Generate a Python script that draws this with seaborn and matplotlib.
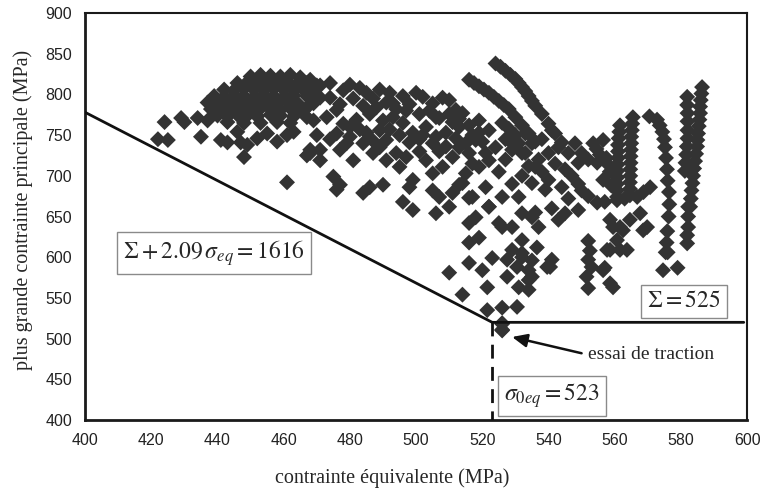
import matplotlib
matplotlib.use("Agg")
import matplotlib.pyplot as plt
import seaborn as sns
import pandas as pd

# ---------------- data ----------------
left_x = [422, 424, 425, 429, 430, 435, 434, 437, 441, 443, 446, 447, 448, 449, 452, 455,
          458, 461, 461, 463, 467, 468, 470, 471, 475, 476, 477, 484, 486, 490]
left_y = [745, 766, 744, 771, 766, 748, 771, 768, 744, 741, 754, 741, 723, 738, 746, 752,
          742, 692, 750, 754, 725, 732, 750, 732, 699, 683, 689, 679, 686, 689]

band_x = [450, 453, 456, 459, 462, 465,
          446, 449, 452, 455, 458, 461, 464, 467, 470,
          442, 445, 448, 451, 454, 457, 460, 463, 466, 469,
          439, 442, 445, 448, 451, 454, 457, 460, 463, 467, 471,
          437, 440, 443, 446, 449, 452, 455, 458, 461, 464, 468,
          438, 441, 444, 447, 450, 453, 456, 459, 462, 466,
          440, 443, 446, 449, 452, 456, 459, 463, 467,
          443, 448, 453, 458, 462, 469]
band_y = [822, 824, 823, 822, 824, 821,
          814, 815, 813, 816, 814, 815, 813, 814, 811,
          806, 805, 807, 806, 805, 807, 806, 805, 806, 804,
          798, 797, 799, 798, 797, 799, 798, 797, 799, 798, 796,
          790, 789, 791, 790, 789, 791, 790, 789, 791, 790, 788,
          782, 781, 783, 782, 781, 783, 782, 781, 783, 780,
          774, 773, 775, 774, 773, 775, 774, 773, 772,
          766, 765, 765, 766, 765, 768]

mid_x = [468, 471, 474, 478, 480, 483, 485, 487, 489, 492, 493, 496, 500, 502, 505, 508, 510, 512, 514,
         465, 469, 473, 476, 478, 480, 482, 485, 486, 489, 490, 491, 493, 496, 497, 499, 501, 503, 505,
         506, 509, 511, 513, 515, 517, 519, 519, 521, 522, 518, 524,
         468, 471, 474, 477, 479, 481, 484, 487, 489, 491, 494, 495, 497, 499, 501, 503, 505, 507, 508,
         511, 513, 515, 517, 519, 522, 525, 527, 529, 532, 536,
         496, 498, 499, 505, 506, 507, 510, 511, 513, 514, 516, 517, 521, 522, 526, 531, 535, 539,
         474, 477, 481, 484, 488, 491, 494, 498, 501, 504, 507, 510, 513, 516,
         476, 480, 483, 487, 492, 495, 498, 502, 506, 509, 512, 516, 520]
mid_y = [818, 811, 814, 805, 812, 808, 802, 795, 806, 802, 789, 798, 802, 797, 789, 796, 793, 781, 777,
         781, 789, 772, 781, 764, 760, 769, 753, 776, 756, 768, 744, 772, 765, 780, 753, 745, 760, 740,
         772, 753, 766, 760, 740, 750, 753, 768, 728, 756, 744, 735,
         728, 719, 745, 732, 740, 719, 740, 728, 735, 719, 728, 711, 723, 695, 730, 719, 703, 730, 711,
         723, 735, 703, 715, 711, 719, 705, 720, 740, 728, 711,
         668, 686, 658, 682, 654, 674, 662, 679, 689, 691, 673, 674, 686, 662, 674, 674, 691, 683,
         796, 788, 795, 786, 784, 790, 782, 788, 776, 780, 771, 776, 770, 762,
         752, 748, 757, 743, 757, 750, 741, 750, 748, 736, 746, 728, 742]

streak_x = [524, 525.5, 527, 528.5, 530, 531, 532, 533, 534, 535, 536,
            538, 540, 542, 544, 546, 549,
            516, 517.5, 519, 520.5, 522, 523.5, 525, 526.5, 528,
            530, 532, 534, 536]
streak_y = [838, 834, 829, 824, 819, 814, 809, 804, 798, 792, 786,
            776, 764, 752, 741, 728, 716,
            818, 814, 810, 806, 802, 797, 792, 787, 782,
            772, 762, 752, 742]

blob_x = [526, 528, 530, 527, 531, 533, 529, 533, 535, 537, 534, 538, 540, 542, 540, 543, 545, 547,
          549, 544, 546, 541, 543, 545, 549, 550, 552, 548, 550, 552, 541, 538, 532, 529, 536, 532, 537]
blob_y = [765, 758, 750, 745, 740, 752, 732, 728, 740, 720, 712, 705, 695, 715, 728, 735, 708, 700,
          690, 686, 672, 660, 646, 654, 658, 682, 675, 740, 728, 720, 756, 745, 700, 690, 655, 654, 637]

low_x = [514, 510, 516, 520, 523, 516, 519, 516, 518, 526, 529, 534, 522, 527.5, 527.5, 531, 534,
         530.5, 526, 521.5, 526, 526, 521.5, 532, 536.5, 540.5, 532, 530.5, 525, 529, 535, 535, 535,
         534, 539.6, 532, 541, 552, 552.5, 552, 553, 551.5, 552]
low_y = [554, 581, 593, 584, 599, 618, 624, 642, 649, 637, 609, 584, 662, 597, 576, 563, 572,
         539, 538, 535, 519, 511, 563, 621, 612, 588, 600, 588, 642, 637, 649, 596, 576,
         560, 588, 605, 597, 620, 608, 597, 588, 576, 562]

right_x = [557, 559.5, 557.7, 561.6, 562.5, 559.5, 568.6, 558.6, 561.6, 564.6, 567.7, 569.8, 560.7,
           563.7, 558.6, 556.5, 558.6,
           565.5, 565.3, 565.2, 565, 565, 564.9, 564.8, 564.8, 564.7, 564.7, 564.6, 564.6, 564.6,
           561.6, 561.4, 561.2, 561, 561, 561, 560.9, 560.8, 560.8, 560.7, 560.7, 560.7,
           553.5, 554.5, 555.5, 556.5, 557.5, 558, 554.7, 556.5, 558.5, 559,
           554.7, 557, 560.7, 563, 566.8, 568.7, 570.7,
           570.5, 572.8, 573.6, 574.4, 574.9, 575.2, 575.5, 575.8, 576, 576.4, 576.5, 576.3, 575.9,
           575.7, 575.4, 574.6,
           586.4, 586.2, 586, 585.8, 585.8, 585.6, 585.4, 585.2, 585, 584.9, 584.6, 584.3, 584, 583.7,
           583.5, 583.2, 583, 582.8,
           581.9, 581.9, 582, 582, 582, 582, 581.8, 581.6, 581.4, 581.2, 582.2, 582.2, 582.2, 581.9,
           581.9, 579, 576]
right_y = [587, 563, 609, 609, 633, 637, 633, 646, 637, 646, 654, 637, 621,
           609, 609, 584, 568,
           772, 764, 756, 748, 740, 732, 724, 716, 708, 700, 692, 684, 676,
           762, 754, 746, 738, 730, 722, 714, 706, 698, 690, 682, 674,
           740, 733, 726, 744, 722, 714, 716, 695, 705, 688,
           667, 668, 670, 672, 674, 680, 686,
           773, 769, 762, 754, 745, 735, 722, 708, 694, 680, 665, 650, 632,
           618, 606, 584,
           809, 801, 793, 785, 777, 769, 761, 752, 744, 736, 727, 718, 709, 700,
           691, 682, 672, 662,
           797, 787, 777, 767, 756, 746, 736, 726, 716, 706, 662, 650, 637, 627,
           617, 587, 606]

tension_x = [526, 526]
tension_y = [518, 510]

limit_x = [400, 523, 599]          # Sigma + 2.09 sigma_eq = 1616, then Sigma = 525
limit_y = [778, 520, 520]
sigma0_x = [523, 523]              # sigma_0eq = 523
sigma0_y = [520, 400]

x_ticks = list(range(400, 601, 20))
y_ticks = list(range(400, 901, 50))

# ---------------- figure ----------------
sns.set_style("white")
plt.rcParams["font.family"] = ["Liberation Serif", "DejaVu Serif"]
plt.rcParams["mathtext.fontset"] = "stix"

df = pd.DataFrame({
    "x": left_x + band_x + mid_x + streak_x + blob_x + low_x + right_x + tension_x,
    "y": left_y + band_y + mid_y + streak_y + blob_y + low_y + right_y + tension_y,
})

fig = plt.figure(figsize=(7.6, 4.95), dpi=100)
ax = fig.add_axes([0.112, 0.1515, 0.871, 0.8222])

sns.scatterplot(data=df, x="x", y="y", marker="D", s=66, color="#333333",
                edgecolor="none", linewidth=0, ax=ax, zorder=3)

ax.plot(limit_x, limit_y, color="#111111", lw=2.0, zorder=4)
ax.plot(sigma0_x, sigma0_y, color="#111111", lw=2.0, ls=(0, (5, 3)), zorder=4)

ax.set_xlim(400, 600)
ax.set_ylim(400, 900)
ax.set_xticks(x_ticks)
ax.set_yticks(y_ticks)
ax.tick_params(direction="inout", length=7, width=1, colors="#222222", labelsize=11.5, pad=6)
for lab in ax.get_xticklabels() + ax.get_yticklabels():
    lab.set_fontfamily("Liberation Sans")

for side, lw in (("left", 2.0), ("bottom", 2.0), ("top", 1.5), ("right", 1.5)):
    ax.spines[side].set_visible(True)
    ax.spines[side].set_color("#1a1a1a")
    ax.spines[side].set_linewidth(lw)

ax.set_xlabel("contrainte équivalente (MPa)", fontsize=14.5)
ax.set_ylabel("plus grande contrainte principale (MPa)", fontsize=14.5)
ax.xaxis.set_label_coords(0.464, -0.118)
ax.yaxis.set_label_coords(-0.078, 0.516)

box = dict(boxstyle="square,pad=0.25", fc="white", ec="#8a8a8a", lw=1.0)
ax.text(439, 605, r"$\Sigma + 2.09\,\sigma_{eq} = 1616$", fontsize=17, ha="center",
        va="center", bbox=box, zorder=5)
ax.text(581, 546, r"$\Sigma = 525$", fontsize=17, ha="center", va="center", bbox=box, zorder=5)
ax.text(541, 429.5, r"$\sigma_{0eq} = 523$", fontsize=17, ha="center", va="center",
        bbox=box, zorder=5)

ax.annotate("", xy=(529, 502), xytext=(550, 482),
            arrowprops=dict(arrowstyle="-|>,head_length=0.9,head_width=0.4", lw=1.8,
                            color="#111111", shrinkA=0, shrinkB=0), zorder=6)
ax.text(552, 480, "essai de traction", fontsize=14, ha="left", va="center", zorder=6)

fig.savefig("out.png", dpi=100, facecolor="white")
